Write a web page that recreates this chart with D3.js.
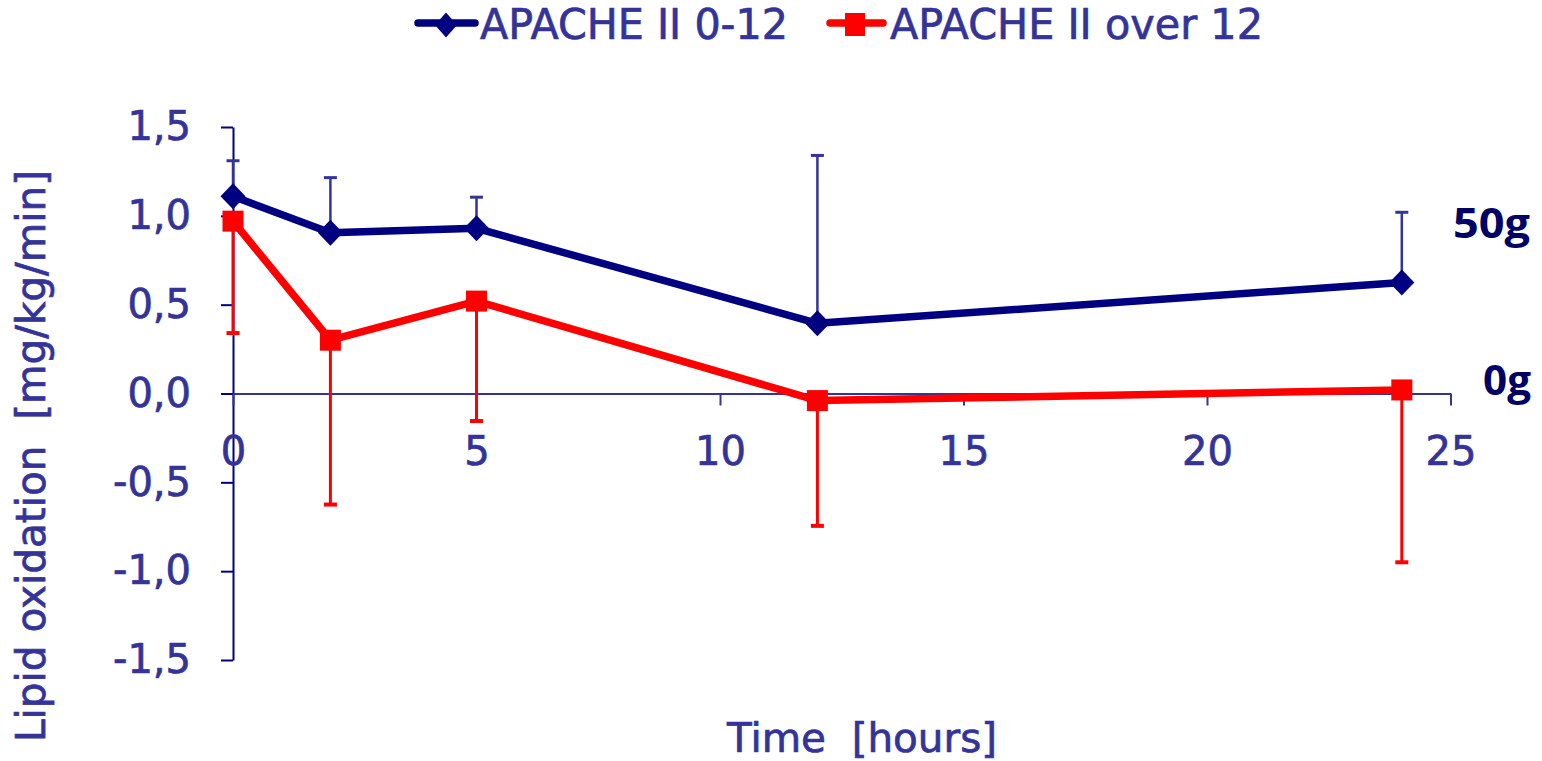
<!DOCTYPE html>
<html>
<head>
<meta charset="utf-8">
<script src="https://cdn.jsdelivr.net/npm/d3@7"></script>
<style>
  html, body { margin: 0; padding: 0; background: #ffffff; }
  svg { display: block; }
  text { white-space: pre; }
</style>
</head>
<body>
<svg id="chart" width="1542" height="761"></svg>
<script>
// ---- data ----
const hours = [0, 2, 5, 12, 24];
const seriesNames = ["APACHE II 0-12", "APACHE II over 12"];
const lowApache = [1.11, 0.905, 0.93, 0.395, 0.625];
const lowApacheErrUp = [0.20, 0.31, 0.175, 0.945, 0.395];
const highApache = [0.97, 0.30, 0.52, -0.04, 0.02];
const highApacheErrDown = [0.63, 0.925, 0.675, 0.705, 0.97];
const xTicks = [0, 5, 10, 15, 20, 25];
const yTicks = [-1.5, -1.0, -0.5, 0.0, 0.5, 1.0, 1.5];
const yTitle = "Lipid oxidation  [mg/kg/min]";
const xTitle = "Time  [hours]";
const sideLabels = ["50g", "0g"];

// ---- layout ----
const svg = d3.select("#chart");
const textColor = "#333399";
const navy = "#000080";
const red = "#ff0000";
const font = "'DejaVu Sans', Verdana, sans-serif";

function thicken(sel) {
  return sel.attr("stroke", textColor).attr("stroke-width", 0.7).attr("paint-order", "stroke");
}

const x = d3.scaleLinear().domain([0, 25]).range([233, 1450.5]);
const y = d3.scaleLinear().domain([-1.5, 1.5]).range([660, 127]);

// y axis
const yAxis = d3.axisLeft(y).tickValues(yTicks).tickSize(12).tickSizeOuter(0).tickPadding(30)
  .tickFormat(d => d3.format(".1f")(d).replace(".", ",").replace("−", "-"));
const gy = svg.append("g").attr("transform", `translate(${x(0)},0)`).call(yAxis);
gy.select(".domain").attr("stroke", navy).attr("stroke-width", 2);
gy.selectAll(".tick line").attr("stroke", navy).attr("stroke-width", 2);
thicken(gy.selectAll(".tick text").attr("fill", textColor).style("font-family", font).style("font-size", "40px"));

// x axis
const xAxis = d3.axisBottom(x).tickValues(xTicks).tickSize(12).tickSizeOuter(0).tickPadding(31)
  .tickFormat(d3.format("d"));
const gx = svg.append("g").attr("transform", `translate(0,${y(0)})`).call(xAxis);
gx.select(".domain").attr("stroke", textColor).attr("stroke-width", 2);
gx.selectAll(".tick line").attr("stroke", textColor).attr("stroke-width", 2);
thicken(gx.selectAll(".tick text").attr("fill", textColor).style("font-family", font).style("font-size", "40px"));

// error bars
const cap = 6.5;
const errBlue = svg.append("g").attr("stroke", textColor).attr("stroke-width", 2.5);
hours.forEach((h, i) => {
  const top = lowApache[i] + lowApacheErrUp[i];
  errBlue.append("line").attr("x1", x(h)).attr("x2", x(h)).attr("y1", y(lowApache[i])).attr("y2", y(top));
  errBlue.append("line").attr("x1", x(h) - cap).attr("x2", x(h) + cap).attr("y1", y(top)).attr("y2", y(top)).attr("stroke-width", 3);
});
const errRed = svg.append("g").attr("stroke", red).attr("stroke-width", 3);
hours.forEach((h, i) => {
  const bot = highApache[i] - highApacheErrDown[i];
  errRed.append("line").attr("x1", x(h)).attr("x2", x(h)).attr("y1", y(highApache[i])).attr("y2", y(bot));
  errRed.append("line").attr("x1", x(h) - cap).attr("x2", x(h) + cap).attr("y1", y(bot)).attr("y2", y(bot)).attr("stroke-width", 4);
});

// lines
const line = d3.line().x(d => x(d[0])).y(d => y(d[1]));
const blueData = hours.map((h, i) => [h, lowApache[i]]);
const redData = hours.map((h, i) => [h, highApache[i]]);
svg.append("path").datum(blueData).attr("d", line).attr("fill", "none")
  .attr("stroke", navy).attr("stroke-width", 7.5).attr("stroke-linejoin", "round");
svg.append("path").datum(redData).attr("d", line).attr("fill", "none")
  .attr("stroke", red).attr("stroke-width", 7.5).attr("stroke-linejoin", "round");

// markers
function diamond(cx, cy, w, h) {
  return `M${cx},${cy - h / 2}L${cx + w / 2},${cy}L${cx},${cy + h / 2}L${cx - w / 2},${cy}Z`;
}
svg.append("g").selectAll("path").data(blueData).join("path")
  .attr("d", d => diamond(x(d[0]), y(d[1]), 25, 26)).attr("fill", navy);
svg.append("g").selectAll("rect").data(redData).join("rect")
  .attr("x", d => x(d[0]) - 10.5).attr("y", d => y(d[1]) - 10.5)
  .attr("width", 21).attr("height", 21).attr("fill", red);

// legend
const lg = svg.append("g");
lg.append("line").attr("x1", 418).attr("x2", 475).attr("y1", 23).attr("y2", 23)
  .attr("stroke", navy).attr("stroke-width", 7.5).attr("stroke-linecap", "round");
lg.append("path").attr("d", diamond(446, 25, 22, 25)).attr("fill", navy);
thicken(lg.append("text").attr("x", 480).attr("y", 39).text(seriesNames[0])
  .attr("fill", textColor).style("font-family", font).style("font-size", "42px")
  .attr("textLength", 308).attr("lengthAdjust", "spacingAndGlyphs"));
lg.append("line").attr("x1", 830).attr("x2", 883).attr("y1", 23).attr("y2", 23)
  .attr("stroke", red).attr("stroke-width", 7.5).attr("stroke-linecap", "round");
lg.append("rect").attr("x", 845).attr("y", 13).attr("width", 20).attr("height", 23).attr("fill", red);
thicken(lg.append("text").attr("x", 890).attr("y", 39).text(seriesNames[1])
  .attr("fill", textColor).style("font-family", font).style("font-size", "42px")
  .attr("textLength", 373).attr("lengthAdjust", "spacingAndGlyphs"));

// axis titles
thicken(svg.append("text").attr("transform", "translate(45,456) rotate(-90)")
  .attr("text-anchor", "middle").text(yTitle)
  .attr("fill", textColor).style("font-family", font).style("font-size", "40px")
  .attr("textLength", 572).attr("lengthAdjust", "spacingAndGlyphs"));
thicken(svg.append("text").attr("x", 862).attr("y", 752).attr("text-anchor", "middle").text(xTitle)
  .attr("fill", textColor).style("font-family", font).style("font-size", "40px")
  .attr("textLength", 270).attr("lengthAdjust", "spacingAndGlyphs"));

// side labels
const boldFont = "'Open Sans', 'Noto Sans', sans-serif";
svg.append("text").attr("x", 1530).attr("y", 238).attr("text-anchor", "end").text(sideLabels[0])
  .attr("fill", "#000066").style("font-family", boldFont).style("font-weight", "bold").style("font-size", "42px")
  .attr("textLength", 77).attr("lengthAdjust", "spacingAndGlyphs");
svg.append("text").attr("x", 1531).attr("y", 395).attr("text-anchor", "end").text(sideLabels[1])
  .attr("fill", "#000066").style("font-family", boldFont).style("font-weight", "bold").style("font-size", "42px")
  .attr("textLength", 48).attr("lengthAdjust", "spacingAndGlyphs");
</script>
</body>
</html>
